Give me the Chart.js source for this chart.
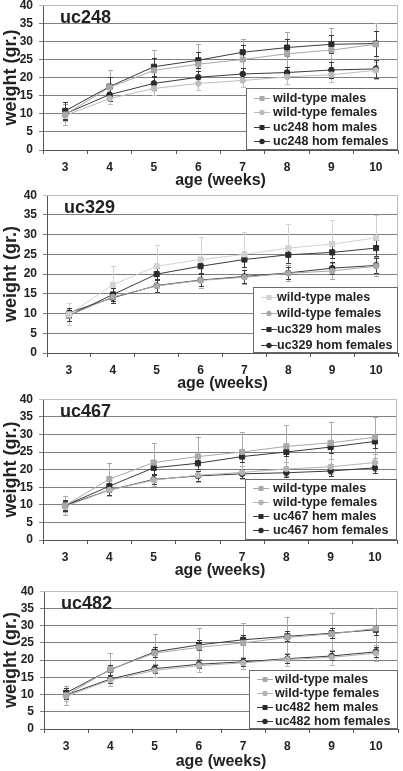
<!DOCTYPE html>
<html>
<head>
<meta charset="utf-8" />
<title>Weight by age</title>
<script src="https://cdn.jsdelivr.net/npm/chart.js@4.4.0/dist/chart.umd.min.js"></script>
<style>
	html, body { margin: 0; padding: 0; background: #fff; }
	body { width: 403px; height: 771px; position: relative; overflow: hidden; }
	canvas { position: absolute; left: 0; }
</style>
</head>
<body>

<canvas id="c248" width="403" height="198" style="top:-8px"></canvas>
<canvas id="c329" width="403" height="211" style="top:182px"></canvas>
<canvas id="c467" width="403" height="194" style="top:386px"></canvas>
<canvas id="c482" width="403" height="193" style="top:578px"></canvas>

<script>
// x categories (age in weeks)
var weeks = ['3', '4', '5', '6', '7', '8', '9', '10']

// wild-type controls (same in every panel)
var wtMales      = [9.8, 17.3, 22.0, 23.7, 25.0, 26.6, 27.6, 29.2]
var wtMalesErr   = [2.8, 4.7, 5.5, 5.6, 5.7, 6.0, 6.0, 5.8]
var wtFemales    = [9.5, 14.2, 17.0, 18.4, 19.2, 20.2, 20.8, 22.0]
var wtFemalesErr = [1.5, 1.6, 1.8, 1.8, 1.8, 2.0, 2.1, 2.4]

// uc248
var uc248Males      = [10.8, 17.5, 23.0, 24.8, 27.0, 28.3, 29.2, 29.4]
var uc248MalesErr   = [2.4, 2.6, 2.5, 2.2, 2.0, 2.3, 2.5, 3.5]
var uc248Females    = [10.0, 15.3, 18.4, 20.1, 21.0, 21.4, 22.1, 22.4]
var uc248FemalesErr = [1.5, 1.8, 1.8, 1.8, 1.6, 1.6, 2.3, 2.5]

// uc329
var uc329Males      = [9.5, 14.8, 20.0, 22.0, 23.7, 24.9, 25.5, 26.6]
var uc329MalesErr   = [1.5, 1.6, 1.6, 1.8, 2.0, 2.0, 1.5, 2.0]
var uc329Females    = [10.2, 14.0, 17.1, 18.5, 19.4, 20.3, 21.5, 22.2]
var uc329FemalesErr = [1.2, 1.3, 1.6, 1.5, 1.6, 1.6, 1.6, 1.8]

// uc467
var uc467Males      = [9.8, 15.3, 20.5, 21.8, 23.7, 25.0, 26.4, 28.0]
var uc467MalesErr   = [1.5, 1.8, 1.8, 1.5, 1.5, 1.2, 1.8, 2.0]
var uc467Females    = [9.8, 14.2, 17.2, 18.2, 18.8, 19.1, 19.6, 20.5]
var uc467FemalesErr = [1.2, 1.5, 1.3, 1.3, 1.3, 1.3, 1.5, 1.5]

// uc482
var uc482Males      = [10.5, 17.2, 22.4, 24.4, 25.9, 26.9, 27.8, 28.8]
var uc482MalesErr   = [1.5, 1.5, 1.5, 1.5, 1.5, 1.5, 1.5, 1.5]
var uc482Females    = [9.9, 14.5, 17.5, 18.8, 19.5, 20.4, 21.2, 22.4]
var uc482FemalesErr = [1.2, 1.2, 1.2, 1.2, 1.2, 1.3, 1.3, 1.5]

var FONT = '"Liberation Sans", Arial, sans-serif'
var DARK = '#2b2b2b'

// error bars from each dataset's errors array
var errorBars = {
	id: 'errorBars',
	beforeDatasetsDraw: function(chart) {
		var ctx = chart.ctx
		var y = chart.scales.y
		chart.data.datasets.forEach(function(ds, i) {
			var meta = chart.getDatasetMeta(i)
			ctx.save()
			ctx.strokeStyle = ds.errColor || ds.borderColor
			ctx.lineWidth = 1
			meta.data.forEach(function(pt, j) {
				var top = y.getPixelForValue(ds.data[j] + ds.errors[j])
				var bot = y.getPixelForValue(ds.data[j] - ds.errors[j])
				var x = Math.round(pt.x) + 0.5
				ctx.beginPath()
				ctx.moveTo(x, top); ctx.lineTo(x, bot)
				ctx.moveTo(x - 2.5, Math.round(top) + 0.5); ctx.lineTo(x + 2.5, Math.round(top) + 0.5)
				ctx.moveTo(x - 2.5, Math.round(bot) + 0.5); ctx.lineTo(x + 2.5, Math.round(bot) + 0.5)
				ctx.stroke()
			})
			ctx.restore()
		})
	}
}

// plot frame, panel name and boxed legend inside the plot
var frameAndLegend = {
	id: 'frameAndLegend',
	beforeDatasetsDraw: function(chart) {
		var a = chart.chartArea, ctx = chart.ctx
		ctx.save()
		ctx.strokeStyle = '#bdbdbd'
		ctx.lineWidth = 1
		ctx.beginPath()
		ctx.moveTo(a.left, Math.round(a.top) + 0.5)
		ctx.lineTo(Math.round(a.right) - 0.5, Math.round(a.top) + 0.5)
		ctx.lineTo(Math.round(a.right) - 0.5, a.bottom)
		ctx.stroke()
		ctx.restore()
	},
	afterDraw: function(chart, args, opts) {
		var a = chart.chartArea, ctx = chart.ctx
		ctx.save()
		ctx.fillStyle = '#222'
		ctx.font = 'bold 18px ' + FONT
		ctx.textBaseline = 'alphabetic'
		ctx.fillText(opts.name, a.left + 17, a.top + 18)

		var bx = a.right - opts.rightGap - opts.w, by = a.bottom - opts.h
		ctx.fillStyle = '#fff'
		ctx.fillRect(bx, by, opts.w, opts.h)
		ctx.strokeStyle = '#6a6a6a'
		ctx.strokeRect(Math.round(bx) + 0.5, Math.round(by) + 0.5, opts.w - 1, opts.h - 1)
		ctx.font = 'bold ' + opts.fs + 'px ' + FONT
		ctx.textBaseline = 'middle'
		chart.data.datasets.forEach(function(ds, i) {
			var ry = Math.round(by + opts.first + i * opts.step) + 0.5
			var mx = bx + 16
			ctx.strokeStyle = ds.borderColor
			ctx.beginPath()
			ctx.moveTo(bx + 8, ry); ctx.lineTo(bx + 24, ry)
			ctx.stroke()
			ctx.fillStyle = ds.pointBackgroundColor
			ctx.beginPath()
			if (ds.pointStyle === 'rect') ctx.rect(mx - 2.5, ry - 2.5, 5, 5)
			else ctx.arc(mx, ry, 2.7, 0, Math.PI * 2)
			ctx.fill()
			ctx.fillStyle = '#222'
			ctx.fillText(ds.label, bx + opts.textX, ry + 0.5)
		})
		ctx.restore()
	}
}

function makePanel(id, name, hemLabel, males, malesErr, females, femalesErr, look) {
	var wtM = look.wtMale, wtF = look.wtFemale
	new Chart(id, {
		type: 'line',
		data: {
			labels: weeks,
			datasets: [
				{ label: 'wild-type males', data: wtMales, errors: wtMalesErr, borderColor: wtM, pointBackgroundColor: wtM,
				  pointBorderColor: wtM, pointStyle: 'rect', pointRadius: 3.6, borderWidth: 1 },
				{ label: 'wild-type females', data: wtFemales, errors: wtFemalesErr, borderColor: wtF, pointBackgroundColor: wtF,
				  pointBorderColor: wtF, pointStyle: 'circle', pointRadius: 2.8, borderWidth: 1 },
				{ label: name + ' ' + hemLabel + ' males', data: males, errors: malesErr, borderColor: '#3a3a3a', pointBackgroundColor: DARK,
				  pointBorderColor: DARK, pointStyle: 'rect', pointRadius: 3.6, borderWidth: 1 },
				{ label: name + ' hom females', data: females, errors: femalesErr, borderColor: '#3a3a3a', pointBackgroundColor: DARK,
				  pointBorderColor: DARK, pointStyle: 'circle', pointRadius: 2.8, borderWidth: 1 }
			]
		},
		options: {
			responsive: false,
			animation: false,
			lineTension: 0,
			layout: { padding: { top: look.padTop, right: look.padRight, left: 0, bottom: 0 } },
			plugins: {
				legend: { display: false },
				tooltip: { enabled: false },
				frameAndLegend: look.legend
			},
			scales: {
				x: {
					offset: true,
					afterFit: function(s) { s.height = look.xHeight },
					grid: { offset: true, drawOnChartArea: false, tickLength: 4, color: '#555' },
					border: { color: '#555' },
					ticks: { color: '#222', font: { family: FONT, size: 12, weight: 'bold' }, padding: 6, maxRotation: 0, autoSkip: false },
					title: { display: true, text: 'age (weeks)', color: '#222', padding: 0,
						font: { family: FONT, size: 16, weight: 'bold' } }
				},
				y: {
					min: 0, max: 40,
					afterFit: function(s) { s.width = look.yWidth },
					grid: {
						tickLength: 4,
						color: function(c) { return c.tick && c.tick.value === 40 ? '#bdbdbd' : '#808080' }
					},
					border: { color: '#555' },
					ticks: { stepSize: 5, autoSkip: false, color: '#222', font: { family: FONT, size: 12, weight: 'bold' }, padding: 6 },
					title: { display: true, text: 'weight (gr.)', color: '#222', padding: 0,
						font: { family: FONT, size: 18, weight: 'bold' } }
				}
			}
		},
		plugins: [errorBars, frameAndLegend]
	})
}

makePanel('c248', 'uc248', 'hom', uc248Males, uc248MalesErr, uc248Females, uc248FemalesErr, {
	wtMale: '#a9a9a9', wtFemale: '#bcbcbc', padTop: 12, padRight: 1, xHeight: 40, yWidth: 43,
	legend: { name: 'uc248', w: 152, h: 62, rightGap: 0, first: 10, step: 14.4, fs: 12.5, textX: 27 }
})
makePanel('c329', 'uc329', 'hom', uc329Males, uc329MalesErr, uc329Females, uc329FemalesErr, {
	wtMale: '#d2d2d2', wtFemale: '#a8a8a8', padTop: 12, padRight: 1, xHeight: 40, yWidth: 47,
	legend: { name: 'uc329', w: 145, h: 66, rightGap: 0, first: 10, step: 16, fs: 12.5, textX: 24 }
})
makePanel('c467', 'uc467', 'hem', uc467Males, uc467MalesErr, uc467Females, uc467FemalesErr, {
	wtMale: '#a9a9a9', wtFemale: '#b4b4b4', padTop: 12, padRight: 6, xHeight: 40, yWidth: 43,
	legend: { name: 'uc467', w: 152, h: 61, rightGap: 0, first: 9, step: 14, fs: 12.5, textX: 28 }
})
makePanel('c482', 'uc482', 'hem', uc482Males, uc482MalesErr, uc482Females, uc482FemalesErr, {
	wtMale: '#a9a9a9', wtFemale: '#b4b4b4', padTop: 12, padRight: 4, xHeight: 42, yWidth: 44,
	legend: { name: 'uc482', w: 149, h: 59, rightGap: 0, first: 9, step: 14, fs: 12.5, textX: 26 }
})
</script>
</body>
</html>
